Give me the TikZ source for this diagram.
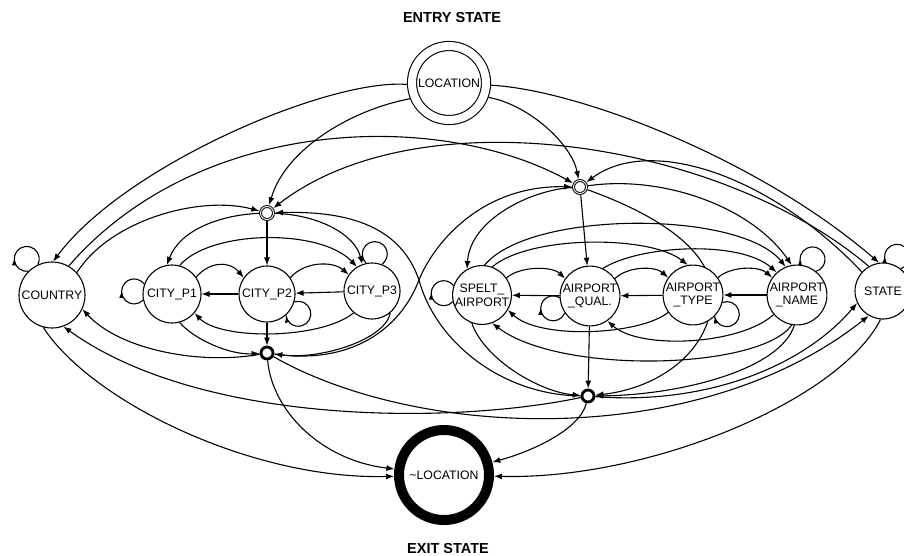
\documentclass[tikz,border=0pt]{standalone}
\usepackage{fontspec}
\setmainfont{Liberation Sans}
\usetikzlibrary{arrows.meta,backgrounds,decorations.markings}

\tikzset{
  conn/.style={line width=1.1pt, black},
  arr/.style={conn, -{Latex[length=8pt,width=6pt]}},
  statenode/.style={circle, draw, fill=white, line width=1.1pt, inner sep=0pt,
    minimum size=56pt, font=\fontsize{12.3}{13.8}\selectfont, align=center},
  topjunction/.style={circle, draw, fill=white, inner sep=0pt, minimum size=13pt,
    line width=1pt, double, double distance=0.9pt, outer sep=1.5pt},
  botjunction/.style={circle, draw, fill=white, inner sep=0pt, minimum size=12pt,
    line width=2.8pt},
  heading/.style={font=\fontsize{14.5}{16}\selectfont\bfseries},
}

% self loop: node, border angle, arc start angle, arc sweep, arrow position
\newcommand{\drawselfloop}[5]{%
  \draw[conn, postaction={decorate}, decoration={markings,
      mark=at position #5 with {\arrow{Latex[length=6.5pt,width=5pt]}}}]
    (#1.#2) arc[start angle=#3, delta angle=#4, radius=12.5pt];%
}

\begin{document}
\begin{tikzpicture}[x=1pt,y=1pt]
\useasboundingbox (0,0) rectangle (904,-555);

% titles
\node[heading] (entrylabel) at (452,-18) {ENTRY STATE};
\node[heading] (exitlabel) at (448,-548) {EXIT STATE};

% entry and exit states
\node[statenode, minimum size=74pt, double, double distance=8pt, outer sep=5pt] (loc) at (449,-83) {LOCATION};
\node[statenode, minimum size=90pt, line width=10pt, outer sep=5pt] (exitst) at (444,-475) {\textasciitilde LOCATION};

% outer states
\node[statenode, minimum size=66pt] (ctry) at (52,-295) {COUNTRY};
\node[statenode] (state) at (883,-291) {STATE};

% city group
\node[statenode, minimum size=58pt] (c1) at (172,-294) {CITY\_P1};
\node[statenode] (c2) at (267,-294) {CITY\_P2};
\node[statenode] (c3) at (372,-291) {CITY\_P3};
\node[topjunction] (jct) at (267,-213) {};
\node[botjunction] (jcb) at (267,-353) {};

% airport group
\node[statenode] (spelt) at (482,-295) {SPELT\_\\AIRPORT};
\node[statenode] (aqual) at (590,-296) {AIRPORT\\\_QUAL.};
\node[statenode] (atype) at (693,-295) {AIRPORT\\\_TYPE};
\node[statenode] (aname) at (797,-295) {AIRPORT\\\_NAME};
\node[topjunction] (jat) at (580,-187) {};
\node[botjunction] (jab) at (588,-396) {};

\coordinate (xcross) at (419,-280);
\coordinate (behindtype) at (712,-295);

\begin{pgfonlayer}{background}
\fill[white] (0,0) rectangle (904,-555);

% from the entry state
\draw[arr] (loc.182) .. controls (330,-78) and (125,-165) .. (ctry.88);
\draw[arr] (loc.202) .. controls (350,-110) and (285,-150) .. (jct);
\draw[arr] (loc.-20) .. controls (530,-105) and (572,-145) .. (jat);
\draw[arr] (loc.-3) .. controls (580,-90) and (760,-160) .. (state.98);

% country
\draw[arr] (ctry.42) .. controls (110,-220) and (200,-195) .. (jct);
\draw[arr] (ctry.60) .. controls (200,-115) and (440,-110) .. (jat);
\draw[arr] (jcb) .. controls (200,-365) and (120,-350) .. (ctry.-25);
\draw[arr] (jab) .. controls (450,-425) and (200,-425) .. (ctry.-70);
\draw[arr] (ctry.-105) .. controls (90,-400) and (250,-480) .. (exitst);
\drawselfloop{ctry}{135}{277}{-304}{0.32}

% state
\draw[arr] (state.120) .. controls (720,-140) and (420,-95) .. (jct);
\draw[arr] (state.138) .. controls (770,-175) and (650,-135) .. (jat);
\draw[arr] (jcb) .. controls (420,-440) and (700,-450) .. (state.-120);
\draw[arr] (jab) .. controls (700,-405) and (800,-370) .. (state.-155);
\draw[arr] (state.-95) .. controls (840,-400) and (650,-480) .. (exitst);
\drawselfloop{state}{84}{208}{-280}{0.1}

% junctions to exit
\draw[arr] (jcb) .. controls (272,-410) and (320,-460) .. (exitst);
\draw[arr] (jab) .. controls (580,-430) and (530,-452) .. (exitst);

% crossing links between the groups
\draw[arr] (jcb) .. controls (350,-365) and (400,-330) .. (xcross)
  .. controls (433,-245) and (480,-185) .. (jat);
\draw[arr] (jab) .. controls (500,-395) and (435,-340) .. (xcross)
  .. controls (405,-240) and (370,-210) .. (jct);

% city group
\draw[arr] (jct) .. controls (220,-215) and (180,-230) .. (c1.100);
\draw[arr] (jct) -- (c2);
\draw[arr] (jct) .. controls (320,-215) and (355,-235) .. (c3.110);
\draw[arr] (c1.35) .. controls (210,-261) and (230,-261) .. (c2.145);
\draw[arr] (c2.35) .. controls (305,-261) and (333,-261) .. (c3.145);
\draw[arr] (c2) -- (c1);
\draw[arr] (c3) -- (c2);
\draw[arr] (c1.75) .. controls (210,-230) and (320,-228) .. (c3.122);
\draw[arr] (c3.230) .. controls (320,-340) and (220,-340) .. (c1.-40);
\draw[arr] (c1.-75) .. controls (195,-340) and (230,-355) .. (jcb);
\draw[arr] (c2) -- (jcb);
\draw[arr] (c3.-50) .. controls (385,-340) and (320,-360) .. (jcb);
\drawselfloop{c1}{192}{316}{-280}{0.486}
\drawselfloop{c2}{-16}{108}{-280}{0.99}
\drawselfloop{c3}{102}{226}{-280}{0.164}

% airport group
\draw[arr] (jat) .. controls (660,-175) and (750,-205) .. (aname.100);
\draw[arr] (jat) .. controls (530,-190) and (470,-220) .. (spelt.120);
\draw[arr] (jat) -- (aqual);
\draw[arr] (jat) .. controls (630,-205) and (712,-240) .. (behindtype)
  .. controls (712,-350) and (660,-388) .. (jab);
\draw[arr] (spelt.35) .. controls (520,-266) and (552,-266) .. (aqual.145);
\draw[arr] (aqual.35) .. controls (628,-266) and (655,-266) .. (atype.145);
\draw[arr] (atype.35) .. controls (731,-266) and (759,-266) .. (aname.145);
\draw[arr] (aqual) -- (spelt);
\draw[arr] (atype) -- (aqual);
\draw[arr] (aname) -- (atype);
\draw[arr] (spelt.70) .. controls (530,-235) and (650,-235) .. (atype.100);
\draw[arr] (spelt.85) .. controls (530,-210) and (740,-210) .. (aname.112);
\draw[arr] (aqual.65) .. controls (640,-245) and (740,-240) .. (aname.132);
\draw[arr] (atype.215) .. controls (640,-335) and (540,-340) .. (spelt.-30);
\draw[arr] (aname.220) .. controls (740,-345) and (640,-350) .. (aqual.-55);
\draw[arr] (aname.260) .. controls (760,-370) and (560,-375) .. (spelt.-70);
\draw[arr] (spelt.250) .. controls (485,-360) and (540,-392) .. (jab);
\draw[arr] (aqual) -- (jab);
\draw[arr] (aname.265) .. controls (780,-370) and (680,-395) .. (jab);
\drawselfloop{spelt}{193}{317}{-280}{0.49}
\drawselfloop{aqual}{214}{338}{-280}{0.564}
\drawselfloop{atype}{-14}{110}{-280}{0.99}
\drawselfloop{aname}{82}{206}{-280}{0.093}
\end{pgfonlayer}
\end{tikzpicture}
\end{document}
